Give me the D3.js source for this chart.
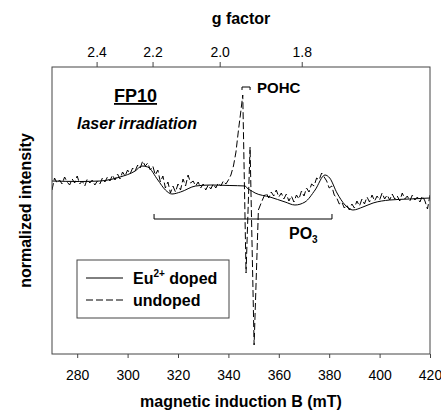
<!DOCTYPE html>
<html>
<head>
<meta charset="utf-8">
<script src="https://cdn.jsdelivr.net/npm/d3@7"></script>
<style>
  body { margin: 0; background: #fff; }
  svg { font-family: "Liberation Sans", Arial, sans-serif; }
</style>
</head>
<body>
<div id="chart-area"></div>
<script>
// field axis (mT) and g-factor ticks
const fieldTicks = [280, 300, 320, 340, 360, 380, 400, 420];
const gTicks = [2.4, 2.2, 2.0, 1.8];

// Eu2+ doped spectrum (smooth)
const dopedB = [270, 281, 289, 297, 303, 305.7, 308, 312, 315, 317.6, 321, 327, 333, 340.6, 346.6,
    347.8, 348.6, 350.6, 356.5, 362.5, 366.4, 370.4, 374.4, 378.3, 380.2, 383.1, 386.3,
    389.4, 393.4, 397.4, 404, 412, 420];
const dopedI = [0.05, 0.045, 0.05, 0.09, 0.15, 0.20, 0.19, 0.06, -0.04, -0.08, -0.06, 0.00, 0.01, 0.005, 0.00,
    -0.03, -0.04, -0.07, -0.11, -0.16, -0.19, -0.16, -0.04, 0.11, 0.08, -0.07, -0.19,
    -0.24, -0.21, -0.17, -0.14, -0.13, -0.12];

// undoped spectrum (noisy, with POHC signal)
const undopedB = [270, 271, 272, 273, 274, 275, 276, 277, 278, 279, 280, 281, 282, 283, 284, 285, 286, 287, 288, 289,
    290, 291, 292, 293, 294, 295, 296, 297, 298, 299, 300, 301, 302, 303, 304, 305, 306, 307, 308, 309,
    310, 311, 312, 313, 314, 315, 316, 317, 318, 319, 320, 321, 322, 323, 324, 325, 326, 327, 328, 329,
    330, 331, 332, 333, 334, 335, 336, 337, 338, 339, 340, 341, 342, 343, 344, 345, 345.7, 347.0, 348.6, 350.2,
    351.9, 353, 354, 355, 356, 357, 358, 359, 360, 361, 362, 363, 364, 365, 366, 367, 368, 369, 370, 371,
    372, 373, 374, 375, 376, 377, 378, 379, 380, 381, 382, 383, 384, 385, 386, 387, 388, 389, 390, 391,
    392, 393, 394, 395, 396, 397, 398, 399, 400, 401, 402, 403, 404, 405, 406, 407, 408, 409, 410, 411,
    412, 413, 414, 415, 416, 417, 418, 419, 420];
const undopedI = [-0.04, 0.08, 0.03, 0.06, 0.02, 0.09, 0.04, 0.01, 0.07, 0.03, 0.10, 0.02, 0.05, 0.00, 0.07, 0.03, 0.06, 0.01, 0.05, 0.02,
    0.08, 0.04, 0.09, 0.05, 0.11, 0.06, 0.12, 0.07, 0.14, 0.10, 0.16, 0.12, 0.18, 0.15, 0.21, 0.18, 0.25, 0.20, 0.23, 0.16,
    0.20, 0.11, 0.16, 0.04, 0.10, -0.02, 0.04, -0.07, 0.00, -0.06, 0.02, -0.04, 0.07, 0.00, 0.11, 0.03, 0.05, 0.00, 0.04, -0.02,
    0.02, -0.04, 0.01, -0.03, 0.02, -0.02, 0.03, 0.00, 0.05, 0.02, 0.06, 0.11, 0.20, 0.34, 0.56, 0.76, 0.91, -0.87, 0.39, -1.59,
    -0.24, -0.17, -0.11, -0.07, -0.12, -0.06, -0.10, -0.04, -0.11, -0.07, -0.13, -0.08, -0.15, -0.10, -0.16, -0.09, -0.13, -0.05, -0.10, -0.02,
    -0.06, 0.02, 0.00, 0.08, 0.06, 0.13, 0.09, 0.05, -0.02, 0.00, -0.09, -0.12, -0.18, -0.16, -0.22, -0.19, -0.24, -0.18, -0.22, -0.15,
    -0.20, -0.13, -0.18, -0.11, -0.16, -0.09, -0.15, -0.10, -0.14, -0.07, -0.13, -0.09, -0.14, -0.08, -0.13, -0.10, -0.15, -0.07, -0.13, -0.10,
    -0.15, -0.09, -0.14, -0.11, -0.16, -0.10, -0.15, -0.23, -0.09];

// annotation brackets (field ranges) and their heights
const po3Range = [310.5, 381.1];
const po3Level = -0.33;
const pohcRange = [345.4, 348.6];
const pohcLevel = 0.99;

const margin = { top: 67, right: 11, bottom: 58, left: 52 };
const W = 441, H = 412;
const width = W - margin.left - margin.right;
const height = H - margin.top - margin.bottom;

const svg = d3.select('#chart-area')
    .append('svg')
    .attr('width', W)
    .attr('height', H);

const g = svg.append('g')
    .attr('transform', `translate(${margin.left},${margin.top})`);

const x = d3.scaleLinear().domain([270, 420]).range([0, width]);
const y = d3.scaleLinear().domain([-1.68, 1.19]).range([height, 0]);

// g factor axis sits on the 1/g scale
const gScale = d3.scaleLinear()
    .domain([1 / 2.4, 1 / 1.8])
    .range([x(287.7), x(369.1)]);

g.append('defs').append('clipPath').attr('id', 'clip')
    .append('rect').attr('width', width).attr('height', height);

const line = d3.line()
    .x(d => x(d[0]))
    .y(d => y(d[1]));

g.append('path')
    .datum(undopedB.map((b, i) => [b, undopedI[i]]))
    .attr('clip-path', 'url(#clip)')
    .attr('fill', 'none')
    .attr('stroke', '#000')
    .attr('stroke-width', 1)
    .attr('stroke-dasharray', '7,3')
    .attr('d', line);

g.append('path')
    .datum(dopedB.map((b, i) => [b, dopedI[i]]))
    .attr('clip-path', 'url(#clip)')
    .attr('fill', 'none')
    .attr('stroke', '#000')
    .attr('stroke-width', 1)
    .attr('d', line.curve(d3.curveMonotoneX));

// frame
g.append('rect')
    .attr('width', width)
    .attr('height', height)
    .attr('fill', 'none')
    .attr('stroke', '#444')
    .attr('stroke-width', 1);

const bottomAxis = g.append('g')
    .attr('transform', `translate(0,${height})`)
    .call(d3.axisBottom(x).tickValues(fieldTicks).tickSize(4).tickPadding(12));

const topAxis = g.append('g')
    .call(d3.axisTop(gScale)
        .tickValues(gTicks.map(v => 1 / v))
        .tickFormat(v => (1 / v).toFixed(1))
        .tickSize(5).tickPadding(5));

[bottomAxis, topAxis].forEach(a => {
    a.select('.domain').remove();
    a.selectAll('line').attr('stroke', '#444');
    a.selectAll('text').attr('font-size', 14).attr('fill', '#000')
        .attr('font-family', '"Liberation Sans", Arial, sans-serif');
});

// axis titles
svg.append('text')
    .attr('x', margin.left + width / 2).attr('y', 407)
    .attr('text-anchor', 'middle').attr('font-size', 16).attr('font-weight', 'bold')
    .text('magnetic induction B (mT)');

svg.append('text')
    .attr('x', margin.left + width / 2).attr('y', 24)
    .attr('text-anchor', 'middle').attr('font-size', 16).attr('font-weight', 'bold')
    .text('g factor');

svg.append('text')
    .attr('transform', `translate(31,${margin.top + height / 2}) rotate(-90)`)
    .attr('text-anchor', 'middle').attr('font-size', 16).attr('font-weight', 'bold')
    .text('normalized intensity');

// sample labels
svg.append('text')
    .attr('x', 135.5).attr('y', 102)
    .attr('text-anchor', 'middle').attr('font-size', 18).attr('font-weight', 'bold')
    .attr('text-decoration', 'underline')
    .text('FP10');

svg.append('text')
    .attr('x', 77).attr('y', 129)
    .attr('font-size', 16).attr('font-weight', 'bold').attr('font-style', 'italic')
    .text('laser irradiation');

// PO3 bracket
g.append('path')
    .attr('fill', 'none').attr('stroke', '#000').attr('stroke-width', 1)
    .attr('d', `M${x(po3Range[0])},${y(po3Level) - 5}V${y(po3Level)}H${x(po3Range[1])}V${y(po3Level) - 5}`);

const po3 = g.append('text')
    .attr('x', x(po3Range[1]) - 43).attr('y', y(po3Level) + 20)
    .attr('font-size', 16).attr('font-weight', 'bold')
    .text('PO');
po3.append('tspan').attr('font-size', 10).attr('dy', 4).text('3');

// POHC bracket
g.append('path')
    .attr('fill', 'none').attr('stroke', '#000').attr('stroke-width', 1)
    .attr('d', `M${x(pohcRange[0])},${y(pohcLevel) + 3}V${y(pohcLevel)}H${x(pohcRange[1])}V${y(pohcLevel) + 3}`);

g.append('text')
    .attr('x', x(pohcRange[1]) + 7).attr('y', y(pohcLevel) + 6)
    .attr('font-size', 15).attr('font-weight', 'bold')
    .text('POHC');

// legend
const legend = svg.append('g').attr('transform', 'translate(77,260)');
legend.append('rect')
    .attr('width', 152).attr('height', 58)
    .attr('fill', '#fff').attr('stroke', '#444').attr('stroke-width', 1);

const items = [
    { dash: null, label: 'Eu', sup: '2+', rest: ' doped' },
    { dash: '7,3', label: 'undoped' }
];
items.forEach((it, i) => {
    const ly = 18 + i * 22;
    legend.append('line')
        .attr('x1', 9).attr('x2', 46).attr('y1', ly).attr('y2', ly)
        .attr('stroke', '#000').attr('stroke-width', 1)
        .attr('stroke-dasharray', it.dash);
    const t = legend.append('text')
        .attr('x', 56).attr('y', ly + 6)
        .attr('font-size', 16).attr('font-weight', 'bold')
        .text(it.label);
    if (it.sup) {
        t.append('tspan').attr('font-size', 10).attr('dy', -7).text(it.sup);
        t.append('tspan').attr('dy', 7).text(it.rest);
    }
});
</script>
</body>
</html>
